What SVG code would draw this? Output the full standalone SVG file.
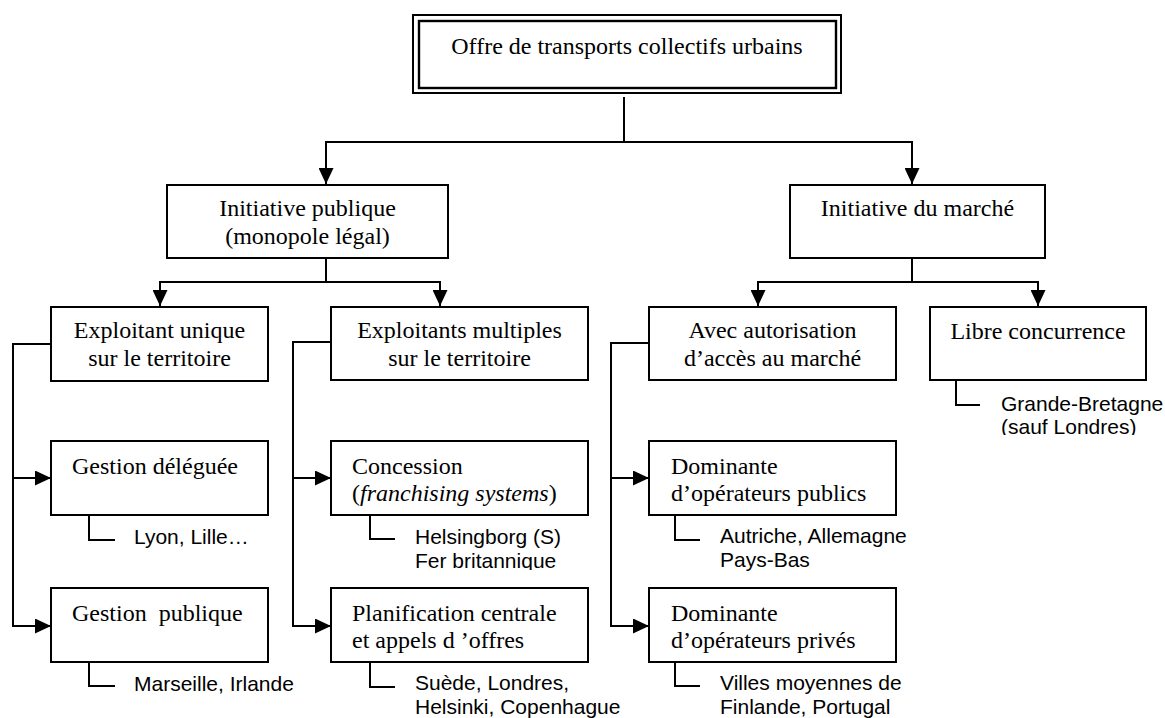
<svg xmlns="http://www.w3.org/2000/svg" width="1165" height="718" viewBox="0 0 1165 718">
<style>
.box{fill:#fff;stroke:#000;stroke-width:2}
.ln{fill:none;stroke:#000;stroke-width:2}
.arr{marker-end:url(#ah)}
.arr2{marker-start:url(#ah);marker-end:url(#ah)}
.t{font-family:"Liberation Serif","Times New Roman",serif;font-size:24px;fill:#000}
.c{text-anchor:middle}
.s{font-family:"Liberation Sans",Arial,sans-serif;font-size:21px;fill:#000}
</style>
<defs>
<marker id="ah" markerUnits="userSpaceOnUse" markerWidth="16" markerHeight="15" refX="16" refY="7.5" orient="auto-start-reverse">
<path d="M0,0 L16,7.5 L0,15 Z" fill="#000"/>
</marker>
<clipPath id="clipHel"><rect x="410" y="520" width="200" height="50"/></clipPath>
<clipPath id="clipGB"><rect x="995" y="390" width="170" height="45"/></clipPath>
</defs>
<rect width="1165" height="718" fill="#fff"/>

<g id="connectors">
<path class="ln" d="M624,97 V142"/>
<path class="ln arr2" d="M326,184 V142 H912 V184"/>
<path class="ln" d="M326,258 V282"/>
<path class="ln arr2" d="M160,306 V282 H440 V306"/>
<path class="ln" d="M912,258 V282"/>
<path class="ln arr2" d="M758,306 V282 H1038 V306"/>
<path class="ln arr" d="M51,344 H13 V626 H51"/>
<path class="ln arr" d="M13,478 H51"/>
<path class="ln arr" d="M331,342 H293 V626 H331"/>
<path class="ln arr" d="M293,478 H331"/>
<path class="ln arr" d="M649,343 H611 V626 H649"/>
<path class="ln arr" d="M611,478 H649"/>
<path class="ln" d="M89,515 V540 H115"/>
<path class="ln" d="M89,662 V686 H115"/>
<path class="ln" d="M370,515 V539 H395"/>
<path class="ln" d="M370,662 V687 H395"/>
<path class="ln" d="M675,515 V540 H700"/>
<path class="ln" d="M675,662 V686 H700"/>
<path class="ln" d="M956,380 V405 H980"/>
</g>

<g id="root">
<rect x="413" y="15" width="428" height="78" fill="#fff" stroke="#000" stroke-width="2"/>
<rect x="419" y="21" width="417" height="67" fill="none" stroke="#000" stroke-width="2.4"/>
<text class="t c" x="627" y="54">Offre de transports collectifs urbains</text>
</g>

<g id="initiative-publique">
<rect class="box" x="167" y="185" width="281" height="73"/>
<text class="t c" x="307.5" y="216">Initiative publique</text>
<text class="t c" x="307.5" y="244">(monopole légal)</text>
</g>

<g id="initiative-marche">
<rect class="box" x="790" y="185" width="255" height="73"/>
<text class="t c" x="917.5" y="216">Initiative du marché</text>
</g>

<g id="exploitant-unique">
<rect class="box" x="51" y="307" width="217" height="74"/>
<text class="t c" x="159.5" y="338">Exploitant unique</text>
<text class="t c" x="159.5" y="366">sur le territoire</text>
</g>

<g id="exploitants-multiples">
<rect class="box" x="331" y="307" width="257" height="73"/>
<text class="t c" x="459.5" y="338">Exploitants multiples</text>
<text class="t c" x="459.5" y="366">sur le territoire</text>
</g>

<g id="avec-autorisation">
<rect class="box" x="649" y="307" width="247" height="73"/>
<text class="t c" x="772.5" y="338">Avec autorisation</text>
<text class="t c" x="772.5" y="366">d’accès au marché</text>
</g>

<g id="libre-concurrence">
<rect class="box" x="930" y="307" width="216" height="73"/>
<text class="t c" x="1038" y="339">Libre concurrence</text>
<g clip-path="url(#clipGB)">
<text class="s" x="1001" y="411">Grande-Bretagne</text>
<text class="s" x="1001" y="434">(sauf Londres)</text>
</g>
</g>

<g id="gestion-deleguee">
<rect class="box" x="51" y="441" width="217" height="74"/>
<text class="t" x="72" y="474">Gestion déléguée</text>
<text class="s" x="134" y="544">Lyon, Lille…</text>
</g>

<g id="gestion-publique">
<rect class="box" x="51" y="588" width="217" height="74"/>
<text class="t" x="72" y="621" style="white-space:pre">Gestion  publique</text>
<text class="s" x="134" y="691">Marseille, Irlande</text>
</g>

<g id="concession">
<rect class="box" x="331" y="441" width="257" height="74"/>
<text class="t" x="352" y="474">Concession</text>
<text class="t" x="352" y="501">(<tspan font-style="italic">franchising systems</tspan>)</text>
<g clip-path="url(#clipHel)">
<text class="s" x="415" y="544">Helsingborg (S)</text>
<text class="s" x="415" y="568">Fer britannique</text>
</g>
</g>

<g id="planification">
<rect class="box" x="331" y="588" width="257" height="74"/>
<text class="t" x="352" y="621">Planification centrale</text>
<text class="t" x="352" y="648" style="white-space:pre">et appels d ’offres</text>
<text class="s" x="415" y="690">Suède, Londres,</text>
<text class="s" x="415" y="714">Helsinki, Copenhague</text>
</g>

<g id="dominante-publics">
<rect class="box" x="649" y="441" width="247" height="74"/>
<text class="t" x="671" y="474">Dominante</text>
<text class="t" x="671" y="501">d’opérateurs publics</text>
<text class="s" x="720" y="543">Autriche, Allemagne</text>
<text class="s" x="720" y="567">Pays-Bas</text>
</g>

<g id="dominante-prives">
<rect class="box" x="649" y="588" width="247" height="74"/>
<text class="t" x="671" y="621">Dominante</text>
<text class="t" x="671" y="648">d’opérateurs privés</text>
<text class="s" x="720" y="690">Villes moyennes de</text>
<text class="s" x="720" y="714">Finlande, Portugal</text>
</g>
</svg>
